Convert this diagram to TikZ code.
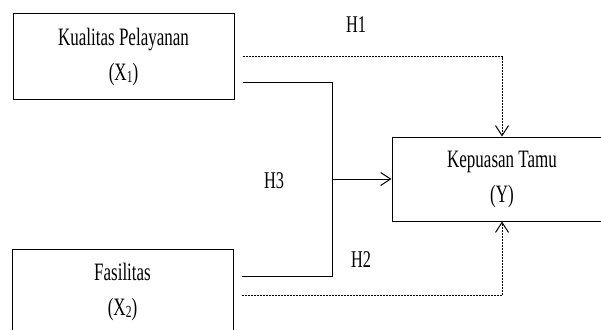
\documentclass[tikz,border=0pt]{standalone}
\usepackage{fontspec}
\setmainfont[FakeStretch=0.68]{Liberation Serif}
\usetikzlibrary{arrows.meta,positioning}
\tikzset{varbox/.style={draw=black,line width=1pt,minimum width=221pt,minimum height=85pt,inner sep=0pt,align=center,font=\fontsize{25}{35}\selectfont}}
\tikzset{hyp/.style={font=\fontsize{24}{24}\selectfont}}
\tikzset{dashline/.style={line width=0.8pt,dash pattern=on 2pt off 1pt}}
\newcommand{\Xsub}[1]{\raisebox{-2pt}{\fontsize{17}{17}\selectfont #1}}

\begin{document}
\begin{tikzpicture}[x=1pt,y=-1pt,>={Straight Barb[length=10pt,width=13pt,line width=1pt]}]
\useasboundingbox (0,0) rectangle (601,329);
% \draw[help lines] (0,0) grid (601,329);
\node (X1) [varbox] at (123.5,56.5) {Kualitas Pelayanan\\(X\Xsub{1})};
\node (X2) [varbox] at (122.5,291.5) {Fasilitas\\(X\Xsub{2})};
\node (Y) [varbox,minimum width=220pt,minimum height=84pt] at (502,179) {Kepuasan Tamu\\(Y)};
%
\coordinate (j) at (332,179);
%
\draw[dashline,->] ([xshift=8pt]X1.east) -| (Y.north);
\draw[dashline,->] ([shift={(8,3.5)}]X2.east) -| (Y.south);
\draw[line width=0.9pt] ([shift={(8,25.5)}]X1.east) -| (j);
\draw[line width=0.9pt] ([shift={(8,-15.5)}]X2.east) -| (j);
\draw[line width=0.9pt,->] (j) -- (Y.west);
%
\node (h1) [hyp] at (356,25) {H1};
\node (h3) [hyp] at (274,181) {H3};
\node (h2) [hyp] at (361,260) {H2};
\end{tikzpicture}
\end{document}
